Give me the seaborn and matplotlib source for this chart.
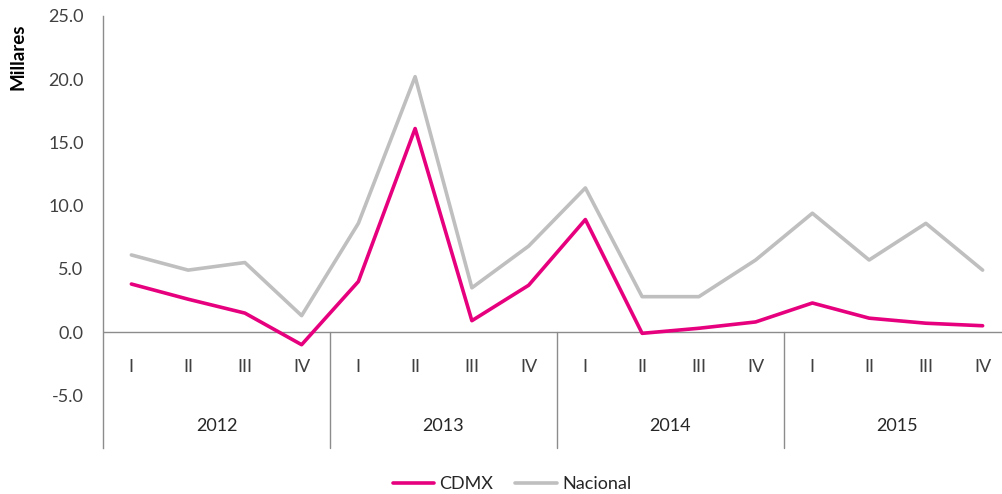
import matplotlib
matplotlib.use("Agg")
import matplotlib.pyplot as plt
import seaborn as sns
import pandas as pd
import numpy as np
from matplotlib.lines import Line2D

years = ["2012", "2013", "2014", "2015"]
quarters = ["I", "II", "III", "IV"]
cdmx = [3.8, 2.6, 1.5, -1.0, 4.0, 16.1, 0.9, 3.7, 8.9, -0.1, 0.3, 0.8, 2.3, 1.1, 0.7, 0.5]
nacional = [6.1, 4.9, 5.5, 1.3, 8.6, 20.2, 3.5, 6.8, 11.4, 2.8, 2.8, 5.7, 9.4, 5.7, 8.6, 4.9]
yticks = [-5, 0, 5, 10, 15, 20, 25]

n = len(cdmx)
df = pd.DataFrame({
    "idx": list(range(n)) * 2,
    "valor": cdmx + nacional,
    "serie": ["CDMX"] * n + ["Nacional"] * n,
})

sns.set_theme(style="white")
plt.rcParams["font.family"] = ["Lato", "DejaVu Sans"]

fig = plt.figure(figsize=(10.03, 4.94), dpi=100)
ax = fig.add_axes([103 / 1003, (494 - 448) / 494, (1011 - 103) / 1003, (448 - 16) / 494])

palette = {"CDMX": "#E6007E", "Nacional": "#BFBFBF"}
sns.lineplot(data=df, x="idx", y="valor", hue="serie", hue_order=["CDMX", "Nacional"],
             palette=palette, linewidth=2.6, ax=ax, legend=False, zorder=3)

fs = 13
ymin = -9.17
ax.set_ylim(ymin, 25)
ax.set_xlim(-0.5, n - 0.5)
ax.set_yticks(yticks)
ax.set_yticklabels([f"{v:.1f}" for v in yticks], fontsize=fs, color="#404040")
ax.tick_params(axis="y", length=0, pad=14)
ax.set_xticks([])
ax.set_xlabel("")
ax.set_ylabel("")

for s in ["top", "right", "bottom"]:
    ax.spines[s].set_visible(False)
ax.spines["left"].set_color("#8C8C8C")
ax.spines["left"].set_linewidth(1.0)

# zero axis line
ax.axhline(0, color="#8C8C8C", lw=1.0, zorder=2)
# year separators
for k in range(1, len(years)):
    ax.plot([k * 4 - 0.5] * 2, [0, ymin], color="#8C8C8C", lw=1.0, clip_on=False)
ax.plot([n - 0.5] * 2, [0, ymin], color="#8C8C8C", lw=1.0, clip_on=False)

# category labels
for i in range(n):
    ax.text(i, -2.75, quarters[i % 4], ha="center", va="center", fontsize=fs, color="#404040")
for k, y in enumerate(years):
    ax.text(k * 4 + 1.5, -7.45, y, ha="center", va="center", fontsize=fs, color="#262626")

fig.text(18 / 1003, 1 - 57 / 494, "Millares", rotation=90, ha="center", va="center",
         fontsize=13.5, fontweight="bold", color="black")

handles = [Line2D([], [], color=palette["CDMX"], lw=2.6),
           Line2D([], [], color=palette["Nacional"], lw=2.6)]
fig.legend(handles, ["CDMX", "Nacional"], loc="center", bbox_to_anchor=(512 / 1003, 1 - 484 / 494),
           ncol=2, frameon=False, fontsize=fs, handlelength=2.3, handletextpad=0.3, columnspacing=1.2,
           labelcolor="#262626")

fig.savefig("out.png", dpi=100)
